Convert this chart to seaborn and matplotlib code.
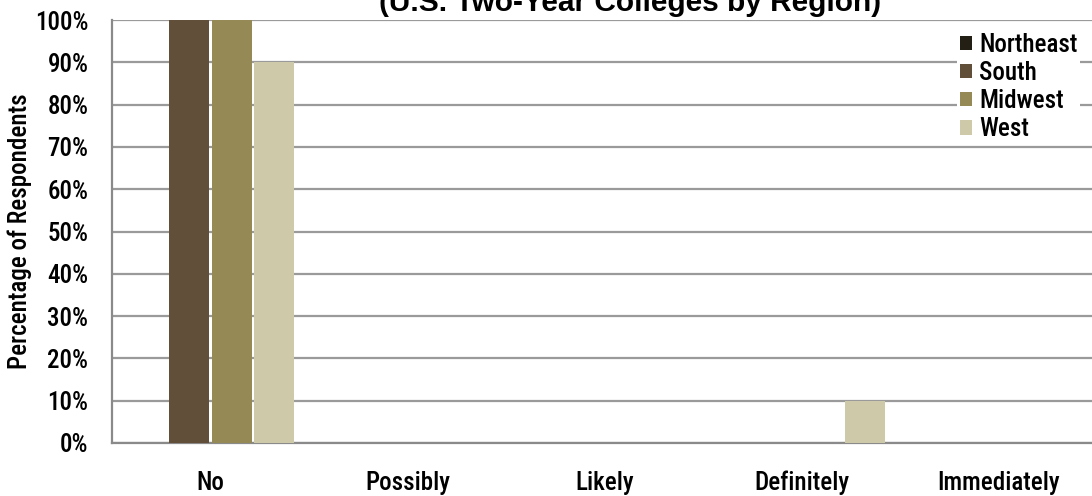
import numpy as np
import pandas as pd
import matplotlib
matplotlib.use("Agg")
import matplotlib.pyplot as plt
from matplotlib.ticker import PercentFormatter
from matplotlib.patches import Patch
import seaborn as sns

# ── Data ──────────────────────────────────────────────────────────────────────
CATEGORIES = ["No", "Possibly", "Likely", "Definitely", "Immediately"]
REGIONS    = ["Northeast", "South", "Midwest", "West"]
NORTHEAST  = [0, 0, 0, 0, 0]
SOUTH      = [100, 0, 0, 0, 0]
MIDWEST    = [100, 0, 0, 0, 0]
WEST       = [90, 0, 0, 10, 0]
COLORS     = ["#231f14", "#614f3a", "#958a55", "#cec9a8"]

TITLE = "(U.S. Two-Year Colleges by Region)"
YLABEL = "Percentage of Respondents"
FS = 18
NARROW = ["Liberation Sans Narrow", "Arial Narrow", "Roboto Condensed",
          "IBM Plex Sans Condensed", "Liberation Sans", "DejaVu Sans"]

# ── Long-form table ───────────────────────────────────────────────────────────
rows = []
for region, vals in zip(REGIONS, [NORTHEAST, SOUTH, MIDWEST, WEST]):
    for cat, v in zip(CATEGORIES, vals):
        rows.append({"category": cat, "region": region, "value": v})
df = pd.DataFrame(rows)

# ── Plot ──────────────────────────────────────────────────────────────────────
sns.set_style("white")
plt.rcParams["font.family"] = NARROW
plt.rcParams["font.weight"] = 500
plt.rcParams["text.color"] = "black"

fig = plt.figure(figsize=(10.92, 4.96), dpi=100)
ax = fig.add_axes([112 / 1092, 53 / 496, 985 / 1092, 423 / 496])

sns.barplot(data=df, x="category", y="value", hue="region", order=CATEGORIES,
            hue_order=REGIONS, palette=COLORS, width=0.865, gap=0.06,
            saturation=1, linewidth=0, ax=ax, legend=False, zorder=3)

ax.set_xlim(-0.5, 4.5)
ax.set_ylim(0, 100)
ax.set_yticks(np.arange(0, 101, 10))
ax.yaxis.set_major_formatter(PercentFormatter(decimals=0))
ax.yaxis.grid(True, color="#9a9a9a", linewidth=1.6, zorder=0)
ax.set_axisbelow(True)

# category separators on the x axis
ax.set_xticks(np.arange(-0.5, 5, 1), minor=True)
ax.tick_params(axis="x", which="minor", length=8, width=1.5, color="#8a8a8a",
               direction="out")
ax.tick_params(axis="x", which="major", length=0, pad=20)
ax.tick_params(axis="y", length=8, width=1.5, color="#8a8a8a", direction="out",
               pad=9)
ax.tick_params(labelsize=FS, labelcolor="black")

for side in ["top", "right"]:
    ax.spines[side].set_visible(False)
for side in ["left", "bottom"]:
    ax.spines[side].set_color("#8a8a8a")
    ax.spines[side].set_linewidth(1.6)

ax.set_xlabel("")
ax.set_ylabel(YLABEL, fontsize=FS, labelpad=2, color="black", fontweight=500)

handles = [Patch(facecolor=c, edgecolor="none") for c in COLORS]
leg = fig.legend(handles, REGIONS, loc="upper left",
                 bbox_to_anchor=(957 / 1092, 1 - 30 / 496),
                 frameon=True, fontsize=FS, handlelength=0.5, handleheight=0.5,
                 handletextpad=0.3, labelspacing=0.17, borderpad=0.1,
                 borderaxespad=0)
leg.get_frame().set_facecolor("white")
leg.get_frame().set_edgecolor("none")
leg.get_frame().set_alpha(1)
leg.get_frame().set_boxstyle("square", pad=0)

fig.text(0.577, 1 - 11 / 496, TITLE, ha="center", va="baseline",
         fontsize=21.5, fontweight="bold", family=["Liberation Sans", "DejaVu Sans"])

fig.savefig("out.png", dpi=100)
